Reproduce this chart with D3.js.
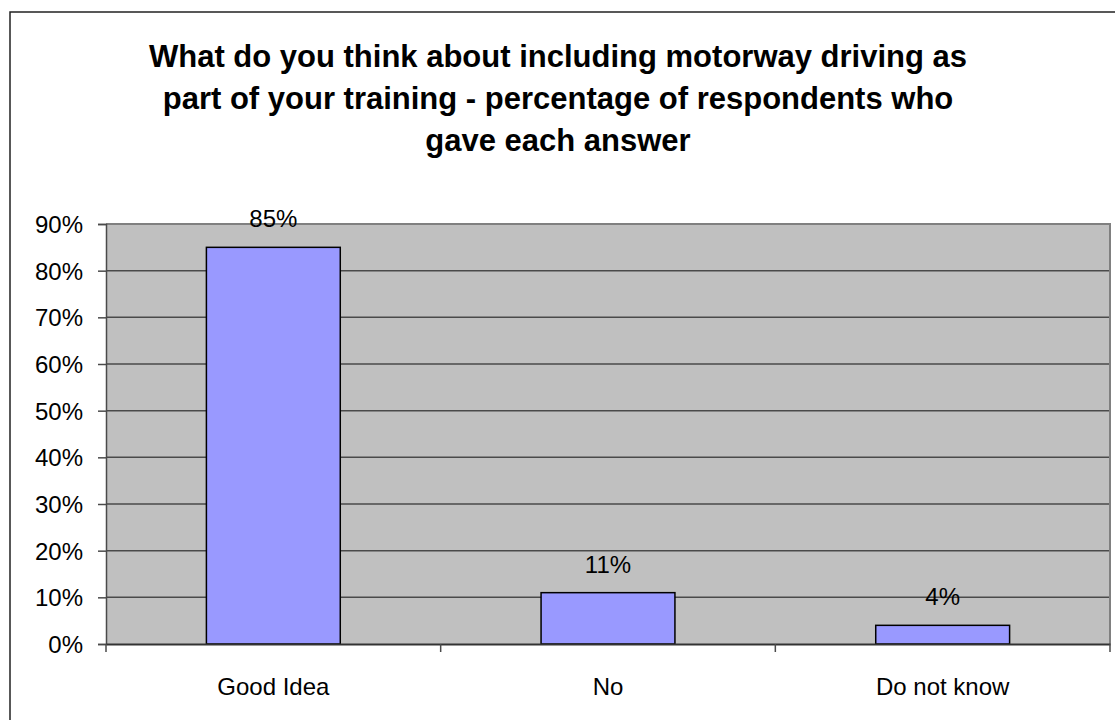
<!DOCTYPE html>
<html>
<head>
<meta charset="utf-8">
<script src="https://cdn.jsdelivr.net/npm/d3@7"></script>
<style>
  html, body { margin: 0; padding: 0; background: #fff; }
  svg { display: block; font-family: "Liberation Sans", Arial, sans-serif; }
</style>
</head>
<body>
<svg id="chart" width="1115" height="720"></svg>
<script>
// Survey answers and the share of respondents giving each (percent)
const categories = ["Good Idea", "No", "Do not know"];
const values = [85, 11, 4];
const yTicks = [0, 10, 20, 30, 40, 50, 60, 70, 80, 90];
const titleLines = [
  "What do you think about including motorway driving as",
  "part of your training - percentage of respondents who",
  "gave each answer"
];

const svg = d3.select("#chart");
const W = 1115, H = 720;
const plot = { left: 106, right: 1110, top: 224, bottom: 644 };
const labelSize = 24;

// Outer chart frame
svg.append("rect")
  .attr("x", 10).attr("y", 12)
  .attr("width", W + 20).attr("height", H + 20)
  .attr("fill", "#fff")
  .attr("stroke", "#222").attr("stroke-width", 1.5);

// Title
svg.append("g").selectAll("text")
  .data(titleLines)
  .join("text")
  .attr("x", 558)
  .attr("y", (d, i) => 67 + i * 42)
  .attr("text-anchor", "middle")
  .attr("font-size", 31)
  .attr("font-weight", "bold")
  .attr("fill", "#000")
  .text(d => d);

const x = d3.scaleBand().domain(categories).range([plot.left, plot.right]).padding(0);
const y = d3.scaleLinear().domain([0, 90]).range([plot.bottom, plot.top]);

// Plot background
svg.append("rect")
  .attr("x", plot.left).attr("y", plot.top)
  .attr("width", plot.right - plot.left).attr("height", plot.bottom - plot.top)
  .attr("fill", "#c0c0c0");

// Horizontal gridlines
svg.append("g").selectAll("line")
  .data(yTicks.filter(t => t > 0 && t < 90))
  .join("line")
  .attr("x1", plot.left).attr("x2", plot.right)
  .attr("y1", d => y(d)).attr("y2", d => y(d))
  .attr("stroke", "#4a4a4a").attr("stroke-width", 1.5);

// Top and right plot border
svg.append("path")
  .attr("d", `M${plot.left},${plot.top}H${plot.right}V${plot.bottom}`)
  .attr("fill", "none")
  .attr("stroke", "#808080").attr("stroke-width", 2);

// Bars
const barW = x.bandwidth() * 0.4;
svg.append("g").selectAll("rect")
  .data(values)
  .join("rect")
  .attr("x", (d, i) => x(categories[i]) + (x.bandwidth() - barW) / 2)
  .attr("y", d => y(d))
  .attr("width", barW)
  .attr("height", d => y(0) - y(d))
  .attr("fill", "#9999ff")
  .attr("stroke", "#000").attr("stroke-width", 1.5);

// Value labels
svg.append("g").selectAll("text")
  .data(values)
  .join("text")
  .attr("x", (d, i) => x(categories[i]) + x.bandwidth() / 2)
  .attr("y", d => y(d) - 20)
  .attr("text-anchor", "middle")
  .attr("font-size", labelSize)
  .attr("fill", "#000")
  .text(d => d + "%");

// Y axis
const yAxis = d3.axisLeft(y).tickValues(yTicks).tickSize(8).tickPadding(15)
  .tickFormat(d => d + "%");
const gy = svg.append("g").attr("transform", `translate(${plot.left},0)`).call(yAxis);
gy.select(".domain").attr("stroke", "#4a4a4a").attr("stroke-width", 1.5);
gy.selectAll(".tick line").attr("stroke", "#4a4a4a").attr("stroke-width", 1.5);
gy.selectAll(".tick text")
  .attr("font-size", labelSize).attr("fill", "#000")
  .attr("font-family", "Liberation Sans, Arial, sans-serif")
  .attr("dy", "0.36em");

// X axis: category separators below the baseline
const xAxis = d3.axisBottom(x).tickSize(0).tickPadding(34);
const gx = svg.append("g").attr("transform", `translate(0,${plot.bottom})`).call(xAxis);
gx.select(".domain").attr("stroke", "#333").attr("stroke-width", 2);
gx.selectAll(".tick text")
  .attr("font-size", labelSize).attr("fill", "#000")
  .attr("font-family", "Liberation Sans, Arial, sans-serif");

const bounds = [...categories.map(c => x(c)), plot.right];
svg.append("g").selectAll("line")
  .data(bounds)
  .join("line")
  .attr("x1", d => d).attr("x2", d => d)
  .attr("y1", plot.bottom).attr("y2", plot.bottom + 8)
  .attr("stroke", "#4a4a4a").attr("stroke-width", 1.5);
</script>
</body>
</html>
